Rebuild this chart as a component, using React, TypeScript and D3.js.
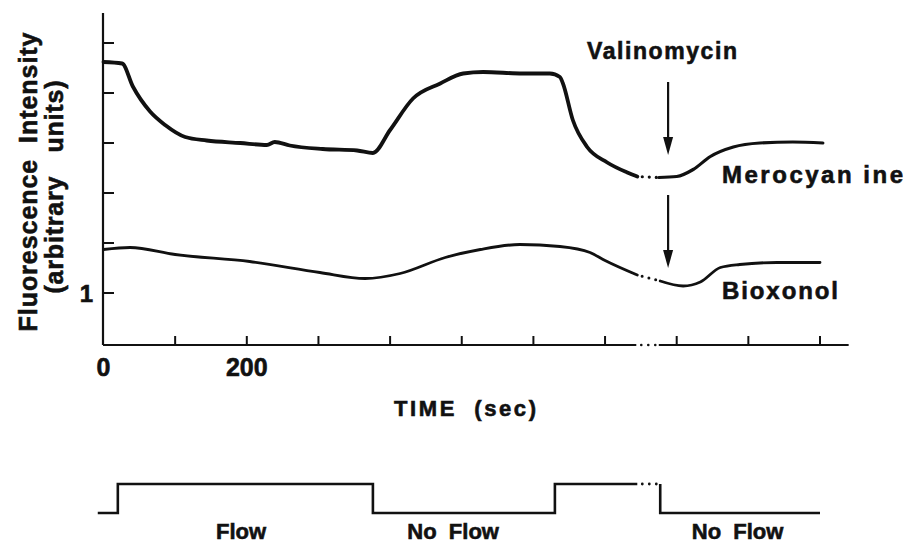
import React from "react";
import * as d3 from "d3";

const WIDTH = 905;
const HEIGHT = 546;

// time (sec) vs fluorescence (arbitrary units)
const meroBefore: [number, number][] = [
  [0, 5.62], [26, 5.59], [41, 5.13], [65, 4.63], [86, 4.36], [114, 4.12],
  [144, 4.05], [191, 4.0], [228, 3.96], [239, 4.02], [260, 3.95], [306, 3.88],
  [354, 3.85], [376, 3.8], [400, 4.26], [432, 4.89], [470, 5.19], [502, 5.39],
  [530, 5.42], [585, 5.39], [623, 5.39], [637, 5.32], [641, 5.2], [655, 4.46],
  [675, 3.92], [703, 3.61], [731, 3.41], [745, 3.33],
];
const meroAfter: [number, number][] = [
  [775, 3.31], [800, 3.33], [823, 3.47], [847, 3.73], [879, 3.92],
  [916, 4.0], [962, 4.02], [1004, 4.0],
];
const bioxBefore: [number, number][] = [
  [0, 1.87], [37, 1.91], [100, 1.77], [204, 1.63], [302, 1.41], [365, 1.29],
  [414, 1.39], [477, 1.71], [526, 1.87], [581, 1.97], [637, 1.93], [679, 1.81],
  [700, 1.65], [745, 1.36],
];
const bioxAfter: [number, number][] = [
  [777, 1.24], [809, 1.14], [833, 1.22], [861, 1.51], [888, 1.57],
  [940, 1.61], [1000, 1.61],
];

const yTicks = [1, 2, 3, 4, 5, 6];
const yTickLabels = ["1"];
const xTicks = [100, 200, 300, 400, 500, 600, 700, 800, 900, 1000];
const xTickLabels: [number, string][] = [[0, "0"], [200, "200"]];

// flow on (1) / off (0)
const flowBefore: [number, number][] = [[-8, 0], [20, 1], [376, 0], [630, 1], [745, 1]];
const flowAfter: [number, number][] = [[777, 1], [777, 0], [1000, 0]];
const flowLabels: [number, string][] = [[192, "Flow"], [488, "No  Flow"], [885, "No  Flow"]];

const breakStart = 745;
const breakEnd = 775;
const valinomycinTime = 788;
const arrowSpans: [number, number][] = [[5.22, 3.76], [2.96, 1.5]];

const FONT = "'Liberation Sans', Arial, Helvetica, sans-serif";
const INK = "#111";

export default function App() {
  const x = d3.scaleLinear().domain([0, 1000]).range([103.5, 820]);
  const y = d3.scaleLinear().domain([-0.04, 6.6]).range([345, 13]);
  const yFlow = d3.scaleLinear().domain([0, 1]).range([513, 484]);

  const trace = d3
    .line<[number, number]>()
    .x((d) => x(d[0]))
    .y((d) => y(d[1]))
    .curve(d3.curveMonotoneX);
  const flowLine = d3
    .line<[number, number]>()
    .x((d) => x(d[0]))
    .y((d) => yFlow(d[1]))
    .curve(d3.curveStepAfter);

  const gap = (a: [number, number][], b: [number, number][]) =>
    `M${x(a[a.length - 1][0])},${y(a[a.length - 1][1])}L${x(b[0][0])},${y(b[0][1])}`;

  const axisX0 = x(0) - 0.5;
  const axisBottom = y(-0.04);
  const axisEnd = x(1040);

  const dotted = { strokeDasharray: "0,7", strokeDashoffset: 2, strokeLinecap: "round" as const };
  // heavier glyphs, like the old typeset figure
  const ink = { fill: INK, stroke: INK, strokeWidth: 0.6 };

  return (
    <svg
      width={WIDTH}
      height={HEIGHT}
      style={{ position: "absolute", left: 0, top: 0, background: "#fff" }}
      fontFamily={FONT}
      fontWeight="bold"
    >
      {/* y axis */}
      <line x1={axisX0} x2={axisX0} y1={y(6.6)} y2={axisBottom} stroke={INK} strokeWidth={2.2} />
      {yTicks.map((t) => (
        <line key={t} x1={axisX0} x2={axisX0 + 11} y1={y(t)} y2={y(t)} stroke={INK} strokeWidth={2} />
      ))}
      {yTickLabels.map((l, i) => (
        <text key={l} x={axisX0 - 10} y={y(yTicks[i]) + 9} textAnchor="end" fontSize={24} {...ink}>
          {l}
        </text>
      ))}
      <g transform={`translate(37,182) rotate(-90)`}>
        <text textAnchor="middle" fontSize={25} textLength={299} lengthAdjust="spacing" style={{ whiteSpace: "pre" }} {...ink}>
          {"Fluorescence  Intensity"}
        </text>
      </g>
      <g transform={`translate(63,187) rotate(-90)`}>
        <text textAnchor="middle" fontSize={25} textLength={213} lengthAdjust="spacing" style={{ whiteSpace: "pre" }} {...ink}>
          {"(arbitrary   units)"}
        </text>
      </g>

      {/* x axis with break */}
      <line x1={axisX0} x2={x(breakStart) - 1} y1={axisBottom} y2={axisBottom} stroke={INK} strokeWidth={2.2} />
      <line x1={x(breakStart) - 1} x2={x(breakEnd)} y1={axisBottom} y2={axisBottom} stroke={INK} strokeWidth={2.6} {...dotted} />
      <line x1={x(breakEnd)} x2={axisEnd} y1={axisBottom} y2={axisBottom} stroke={INK} strokeWidth={2.2} />
      {xTicks.map((t) => (
        <line key={t} x1={x(t)} x2={x(t)} y1={axisBottom} y2={axisBottom - 9} stroke={INK} strokeWidth={2} />
      ))}
      {xTickLabels.map(([v, l]) => (
        <text key={l} x={x(v)} y={376} textAnchor="middle" fontSize={25} {...ink}>
          {l}
        </text>
      ))}
      <text x={465} y={416} textAnchor="middle" fontSize={22} textLength={142} lengthAdjust="spacing" style={{ whiteSpace: "pre" }} {...ink}>
        {"TIME  (sec)"}
      </text>

      {/* traces */}
      <path d={trace(meroBefore) || ""} fill="none" stroke={INK} strokeWidth={3.8} strokeLinejoin="round" strokeLinecap="round" />
      <path d={trace(meroAfter) || ""} fill="none" stroke={INK} strokeWidth={3.2} strokeLinejoin="round" strokeLinecap="round" />
      <path d={gap(meroBefore, meroAfter)} fill="none" stroke={INK} strokeWidth={3.2} {...dotted} />
      <path d={trace(bioxBefore) || ""} fill="none" stroke={INK} strokeWidth={2.8} strokeLinejoin="round" strokeLinecap="round" />
      <path d={trace(bioxAfter) || ""} fill="none" stroke={INK} strokeWidth={2.8} strokeLinejoin="round" strokeLinecap="round" />
      <path d={gap(bioxBefore, bioxAfter)} fill="none" stroke={INK} strokeWidth={3} {...dotted} />

      {/* valinomycin arrows */}
      {arrowSpans.map(([from, to], i) => {
        const ax = x(valinomycinTime);
        const tip = y(to);
        return (
          <g key={i}>
            <line x1={ax} x2={ax} y1={y(from)} y2={tip - 14} stroke={INK} strokeWidth={2.2} />
            <path d={`M${ax - 5},${tip - 18}L${ax + 5},${tip - 18}L${ax},${tip}Z`} fill={INK} />
          </g>
        );
      })}
      <text x={662} y={59} textAnchor="middle" fontSize={23} textLength={150} lengthAdjust="spacing" {...ink}>
        Valinomycin
      </text>
      <text x={722} y={183} fontSize={24} textLength={181} lengthAdjust="spacing" style={{ whiteSpace: "pre" }} {...ink}>
        {"Merocyan ine"}
      </text>
      <text x={722} y={299} fontSize={24} textLength={116} lengthAdjust="spacing" {...ink}>
        Bioxonol
      </text>

      {/* flow protocol */}
      <path d={flowLine(flowBefore) || ""} fill="none" stroke={INK} strokeWidth={2.6} />
      <line x1={x(breakStart)} x2={x(flowAfter[0][0])} y1={yFlow(1)} y2={yFlow(1)} stroke={INK} strokeWidth={2.8} {...dotted} />
      <path d={flowLine(flowAfter) || ""} fill="none" stroke={INK} strokeWidth={2.6} />
      {flowLabels.map(([t, l], i) => (
        <text key={i} x={x(t)} y={539} textAnchor="middle" fontSize={22} style={{ whiteSpace: "pre" }} {...ink}>
          {l}
        </text>
      ))}
    </svg>
  );
}
